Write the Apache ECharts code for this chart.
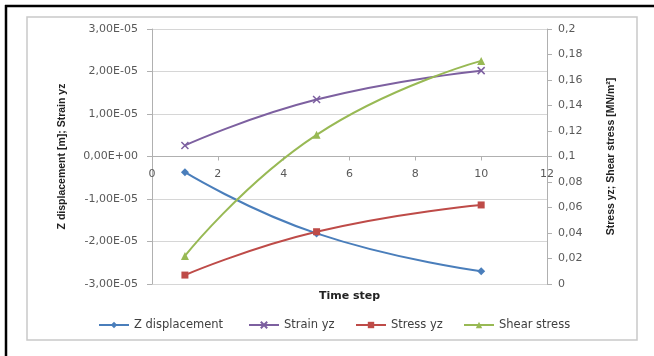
<!DOCTYPE html>
<html>
<head>
<meta charset="utf-8">
<script src="https://cdn.jsdelivr.net/npm/echarts@6/dist/echarts.min.js"></script>
<style>
html,body{margin:0;padding:0;background:#fff;}
#chart{width:654px;height:356px;}
</style>
</head>
<body>
<div id="chart"></div>
<script>
// ---- data ----
const timeSteps = [1, 5, 10];
const zDisplacement = [-3.7e-6, -1.81e-5, -2.7e-5];
const strainYz = [2.6e-6, 1.34e-5, 2.02e-5];
const stressYz = [0.007, 0.041, 0.062];
const shearStress = [0.022, 0.117, 0.175];
const seriesNames = ['Z displacement', 'Strain yz', 'Stress yz', 'Shear stress'];
const xTicks = {min: 0, max: 12, interval: 2};
const leftTicks = {min: -3e-5, max: 3e-5, interval: 1e-5};
const rightTicks = {min: 0, max: 0.2, interval: 0.02};

const colors = ['#4a7ebb', '#7d60a0', '#be4b48', '#98b954'];
const font = 'DejaVu Sans';
const titleFont = "'Liberation Sans Narrow', 'Liberation Sans', sans-serif";

function pairs(xs, ys) { return xs.map((x, i) => [x, ys[i]]); }

function sciLabel(v) {
  const m = Math.round(v * 1e5 * 100) / 100;
  if (m === 0) return '0,00E+00';
  return m.toFixed(2).replace('.', ',') + 'E-05';
}
function decLabel(v) {
  const r = Math.round(v * 100) / 100;
  return String(r).replace('.', ',');
}

const chart = echarts.init(document.getElementById('chart'), null, {renderer: 'canvas'});

const gridTop = 29, gridBottom = 72, chartH = 356;
const plotH = chartH - gridTop - gridBottom;
// x axis sits at left-axis zero: distance from plot bottom
const zeroShift = plotH * (0 - leftTicks.min) / (leftTicks.max - leftTicks.min);

const legendLefts = [98, 248, 355, 463];
const legends = seriesNames.map((n, i) => ({
  data: [n],
  left: legendLefts[i],
  top: 319,
  padding: 0,
  itemWidth: 30,
  itemHeight: 8,
  itemGap: 3,
  textStyle: {fontFamily: font, fontSize: 11.5, color: '#404040'}
}));

function mkSeries(i, yIdx, symbol, size, data, extraItem) {
  return {
    type: 'line',
    name: seriesNames[i],
    yAxisIndex: yIdx,
    smooth: 0.5,
    symbol: symbol,
    symbolSize: size,
    color: colors[i],
    lineStyle: {width: 2, color: colors[i]},
    itemStyle: Object.assign({color: colors[i]}, extraItem || {}),
    data: data
  };
}

const option = {
  animation: false,
  backgroundColor: '#ffffff',
  color: colors,
  legend: legends,
  grid: {left: 152, right: 107, top: gridTop, bottom: gridBottom, containLabel: false, outerBoundsMode: 'none'},
  graphic: [
    {type: 'rect', shape: {x: 27, y: 17, width: 610, height: 323}, style: {fill: 'none', stroke: '#c9c9c9', lineWidth: 1.5}, z: -1},
    {type: 'line', shape: {x1: 5, y1: 6, x2: 654, y2: 6}, style: {stroke: '#000', lineWidth: 2.5}},
    {type: 'line', shape: {x1: 6, y1: 5, x2: 6, y2: 356}, style: {stroke: '#000', lineWidth: 2.5}}
  ],
  xAxis: {
    type: 'value',
    position: 'bottom',
    offset: -zeroShift,
    min: xTicks.min, max: xTicks.max, interval: xTicks.interval,
    name: 'Time step',
    nameLocation: 'middle',
    nameGap: 134,
    nameTextStyle: {fontFamily: font, fontSize: 11, fontWeight: 'bold', color: '#222'},
    axisLine: {onZero: false, lineStyle: {color: '#b0b0b0', width: 1}},
    axisTick: {show: true, length: 4, lineStyle: {color: '#b0b0b0'}},
    axisLabel: {fontFamily: font, fontSize: 11, color: '#595959', margin: 12},
    splitLine: {show: false}
  },
  yAxis: [
    {
      type: 'value',
      position: 'left',
      min: leftTicks.min, max: leftTicks.max, interval: leftTicks.interval,
      name: 'Z displacement [m]; Strain yz',
      nameLocation: 'middle',
      nameRotate: 90,
      nameGap: 84,
      nameTextStyle: {fontFamily: titleFont, fontSize: 10.5, fontWeight: 'bold', color: '#222'},
      axisLine: {show: true, lineStyle: {color: '#b0b0b0', width: 1}},
      axisTick: {show: true, length: 5, lineStyle: {color: '#b0b0b0'}},
      axisLabel: {fontFamily: font, fontSize: 11, color: '#595959', margin: 14, formatter: sciLabel},
      splitLine: {show: true, lineStyle: {color: '#d6d6d6', width: 1}}
    },
    {
      type: 'value',
      position: 'right',
      min: rightTicks.min, max: rightTicks.max, interval: rightTicks.interval,
      name: 'Stress yz; Shear stress [MN/m²]',
      nameLocation: 'middle',
      nameRotate: 90,
      nameGap: 59,
      nameTextStyle: {fontFamily: titleFont, fontSize: 10.5, fontWeight: 'bold', color: '#222'},
      axisLine: {show: true, lineStyle: {color: '#b0b0b0', width: 1}},
      axisTick: {show: true, length: 5, lineStyle: {color: '#b0b0b0'}},
      axisLabel: {fontFamily: font, fontSize: 11, color: '#595959', margin: 11, formatter: decLabel},
      splitLine: {show: false}
    }
  ],
  series: [
    mkSeries(0, 0, 'diamond', 8, pairs(timeSteps, zDisplacement)),
    mkSeries(1, 0, 'path://M0,0L10,10M10,0L0,10', 7, pairs(timeSteps, strainYz), {borderColor: colors[1], borderWidth: 1.5}),
    mkSeries(2, 1, 'rect', 7, pairs(timeSteps, stressYz)),
    mkSeries(3, 1, 'triangle', 8, pairs(timeSteps, shearStress))
  ]
};
chart.setOption(option);
</script>
</body>
</html>
